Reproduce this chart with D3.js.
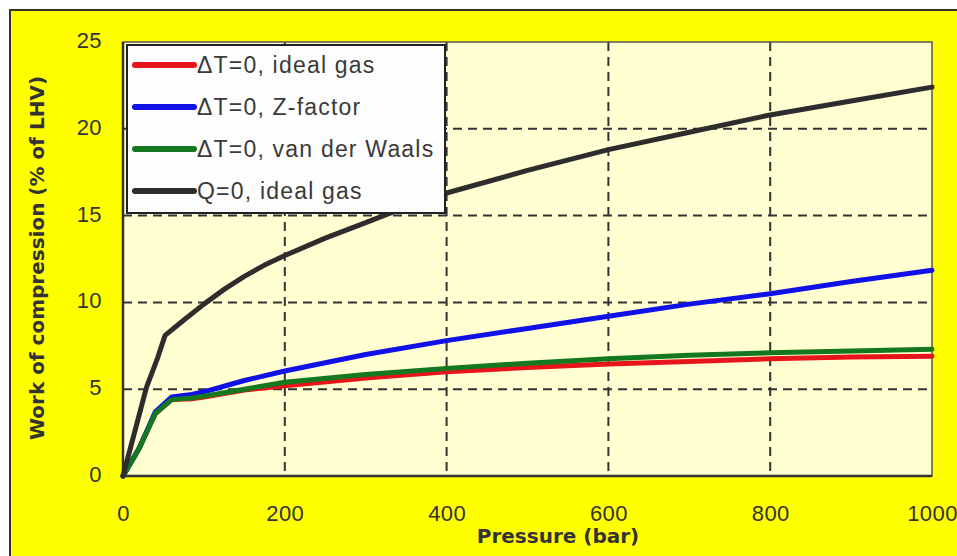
<!DOCTYPE html>
<html><head><meta charset="utf-8">
<script src="https://cdn.jsdelivr.net/npm/d3@7"></script>
<style>body{margin:0;background:#fff}svg{display:block}</style>
</head><body>
<svg id="c" width="957" height="556"></svg>
<script>
const xTicks = [0, 200, 400, 600, 800, 1000];
const yTicks = [0, 5, 10, 15, 20, 25];
const seriesNames = ["ΔT=0, ideal gas", "ΔT=0, Z-factor", "ΔT=0, van der Waals", "Q=0, ideal gas"];
const seriesColors = ["#e8141c", "#1010e8", "#14781e", "#2d2d2d"];
const pIdealT = [0, 20, 40, 60, 85, 100, 150, 200, 300, 400, 500, 600, 700, 800, 900, 1000];
const wIdealT = [0, 1.6, 3.6, 4.4, 4.45, 4.55, 4.95, 5.2, 5.65, 6.0, 6.25, 6.45, 6.6, 6.75, 6.85, 6.9];
const pZ = [0, 20, 40, 60, 85, 100, 150, 200, 300, 400, 500, 600, 700, 800, 900, 1000];
const wZ = [0, 1.6, 3.7, 4.55, 4.7, 4.85, 5.5, 6.05, 7.0, 7.8, 8.5, 9.2, 9.9, 10.5, 11.2, 11.85];
const pVdW = [0, 20, 40, 60, 85, 100, 150, 200, 300, 400, 500, 600, 700, 800, 900, 1000];
const wVdW = [0, 1.6, 3.6, 4.4, 4.5, 4.6, 5.0, 5.4, 5.85, 6.2, 6.5, 6.75, 6.95, 7.1, 7.2, 7.3];
const pQ = [0, 29, 42, 52, 73, 100, 125, 150, 175, 200, 250, 300, 350, 400, 500, 600, 700, 800, 900, 1000];
const wQ = [0, 5.1, 6.7, 8.1, 8.9, 9.9, 10.75, 11.5, 12.15, 12.7, 13.7, 14.6, 15.5, 16.3, 17.6, 18.8, 19.8, 20.8, 21.6, 22.4];

const series = [
  {name: seriesNames[0], color: seriesColors[0], p: pIdealT, w: wIdealT},
  {name: seriesNames[1], color: seriesColors[1], p: pZ, w: wZ},
  {name: seriesNames[2], color: seriesColors[2], p: pVdW, w: wVdW},
  {name: seriesNames[3], color: seriesColors[3], p: pQ, w: wQ}
];

const svg = d3.select("#c");
const L = 123, R = 932, T = 42, B = 476;
const x = d3.scaleLinear().domain([0, 1000]).range([L, R]);
const y = d3.scaleLinear().domain([0, 25]).range([B, T]);
const font = "'Liberation Sans', Arial, sans-serif";
const boldFont = "'DejaVu Sans', Verdana, sans-serif";

// outer background
svg.append("rect").attr("x", 10).attr("y", 10).attr("width", 960).attr("height", 560)
  .attr("fill", "#ffff00").attr("stroke", "#333").attr("stroke-width", 2);

// plot area
svg.append("rect").attr("x", L).attr("y", T).attr("width", R - L).attr("height", B - T)
  .attr("fill", "#ffffd2");

// grid
const grid = svg.append("g").attr("stroke", "#333").attr("stroke-width", 2).attr("stroke-dasharray", "9,6");
grid.selectAll("line.v").data(xTicks.filter(d => d > 0 && d < 1000)).join("line")
  .attr("class", "v")
  .attr("x1", d => x(d)).attr("x2", d => x(d)).attr("y1", T).attr("y2", B);
grid.selectAll("line.h").data(yTicks.filter(d => d > 0 && d < 25)).join("line")
  .attr("class", "h")
  .attr("x1", L).attr("x2", R).attr("y1", d => y(d)).attr("y2", d => y(d));

// frame
svg.append("rect").attr("x", L).attr("y", T).attr("width", R - L).attr("height", B - T)
  .attr("fill", "none").attr("stroke", "#555").attr("stroke-width", 1.5);
svg.append("line").attr("x1", L).attr("x2", L).attr("y1", T).attr("y2", B).attr("stroke", "#333").attr("stroke-width", 2.5);
svg.append("line").attr("x1", L).attr("x2", R).attr("y1", B).attr("y2", B).attr("stroke", "#333").attr("stroke-width", 2.5);

// axes labels via d3 axes
const xAxis = svg.append("g").attr("transform", `translate(0,${B})`)
  .call(d3.axisBottom(x).tickValues(xTicks).tickFormat(d3.format("d")).tickSize(0).tickPadding(29));
xAxis.select(".domain").remove();
xAxis.selectAll("text").attr("font-family", font).attr("font-size", 22).attr("fill", "#333")
  .attr("letter-spacing", 0.4);

const yAxis = svg.append("g").attr("transform", `translate(${L},0)`)
  .call(d3.axisLeft(y).tickValues(yTicks).tickSize(0).tickPadding(21));
yAxis.select(".domain").remove();
yAxis.selectAll("text").attr("font-family", font).attr("font-size", 22).attr("fill", "#333").attr("dy", "0.25em")
  .attr("letter-spacing", 0.4);

// lines
const line = d3.line().x(d => x(d[0])).y(d => y(d[1]));
svg.append("g").selectAll("path").data(series).join("path")
  .attr("d", s => line(s.p.map((p, i) => [p, s.w[i]])))
  .attr("fill", "none").attr("stroke", s => s.color).attr("stroke-width", 5)
  .attr("stroke-linejoin", "round").attr("stroke-linecap", "round");

// legend
const lg = svg.append("g");
lg.append("rect").attr("x", 127).attr("y", 45).attr("width", 318).attr("height", 168)
  .attr("fill", "#fdfdfd").attr("stroke", "#222").attr("stroke-width", 2);
series.forEach((s, i) => {
  const yy = 65 + i * 42;
  lg.append("line").attr("x1", 135).attr("x2", 194).attr("y1", yy).attr("y2", yy)
    .attr("stroke", s.color).attr("stroke-width", 6).attr("stroke-linecap", "round");
  lg.append("text").attr("x", 197).attr("y", yy + 8).text(s.name)
    .attr("font-family", font).attr("font-size", 23).attr("fill", "#3a3a3a")
    .attr("letter-spacing", 1.2);
});

// titles
svg.append("text").attr("x", 558).attr("y", 543).attr("text-anchor", "middle")
  .attr("font-family", boldFont).attr("font-weight", "bold").attr("font-size", 20).attr("fill", "#333")
  .text("Pressure (bar)");
svg.append("text").attr("transform", "translate(44,258) rotate(-90)").attr("text-anchor", "middle")
  .attr("font-family", boldFont).attr("font-weight", "bold").attr("font-size", 20).attr("fill", "#333")
  .text("Work of compression (% of LHV)");
</script>
</body></html>
